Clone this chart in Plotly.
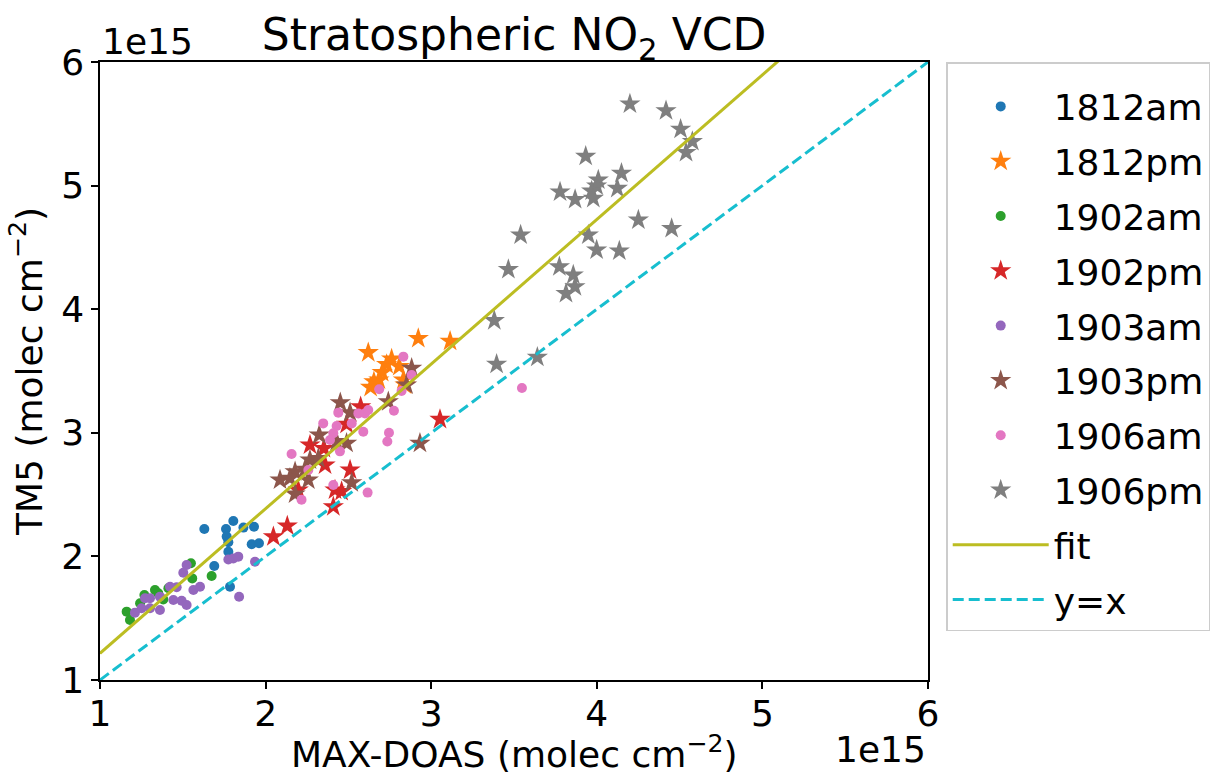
import plotly.graph_objects as go

# Column densities in units of 1e15 molec cm^-2: (MAX-DOAS, TM5) per session
x_1812am = [1.63, 1.805, 1.761, 1.866, 1.93, 1.765, 1.775, 1.916, 1.96, 1.775, 1.69, 1.785]
y_1812am = [2.222, 2.286, 2.222, 2.233, 2.24, 2.16, 2.115, 2.098, 2.106, 2.038, 1.922, 1.755]

x_1812pm = [2.62, 2.922, 3.114, 2.761, 2.731, 2.807, 2.704, 2.684, 2.654, 2.634, 2.832, 2.842]
y_1812pm = [3.649, 3.763, 3.741, 3.597, 3.553, 3.536, 3.488, 3.427, 3.413, 3.368, 3.427, 3.387]

x_1902am = [1.549, 1.557, 1.674, 1.413, 1.332, 1.352, 1.268, 1.242, 1.161, 1.181, 1.382]
y_1902am = [1.944, 1.822, 1.841, 1.742, 1.728, 1.701, 1.688, 1.621, 1.553, 1.485, 1.652]

x_1902pm = [2.047, 2.131, 2.574, 2.489, 2.268, 2.352, 2.359, 2.51, 2.419, 2.459, 2.409, 2.197, 3.053]
y_1902pm = [2.16, 2.246, 3.212, 3.069, 2.901, 2.874, 2.739, 2.699, 2.537, 2.525, 2.403, 2.537, 3.109]

x_1903am = [1.523, 1.503, 1.775, 1.805, 1.835, 1.936, 1.84, 1.463, 1.564, 1.604, 1.272, 1.302,
            1.362, 1.443, 1.493, 1.523, 1.251, 1.211, 1.302, 1.362, 1.423]
y_1903am = [1.93, 1.868, 1.975, 1.983, 1.998, 1.957, 1.674, 1.75, 1.728, 1.755, 1.661, 1.661,
            1.674, 1.647, 1.641, 1.607, 1.58, 1.545, 1.58, 1.566, 1.755]

x_1903pm = [2.451, 2.51, 2.324, 2.429, 2.489, 2.268, 2.318, 2.178, 2.238, 2.087, 2.147, 2.258,
            2.178, 2.52, 2.882, 2.851, 2.741, 2.932]
y_1903pm = [3.244, 3.163, 2.982, 2.929, 2.915, 2.78, 2.793, 2.685, 2.705, 2.618, 2.632, 2.618,
            2.505, 2.597, 3.522, 3.387, 3.252, 2.915]

x_1906am = [2.439, 2.348, 2.429, 2.409, 2.389, 2.52, 2.56, 2.6, 2.62, 2.59, 2.449, 2.157, 2.258,
            2.409, 2.217, 2.616, 2.832, 2.686, 2.882, 2.821, 2.775, 2.745, 2.735, 3.548]
y_1906am = [3.163, 3.076, 3.055, 2.996, 2.942, 3.076, 3.157, 3.157, 3.184, 3.009, 2.85, 2.828, 2.699,
            2.578, 2.459, 2.516, 3.616, 3.352, 3.468, 3.338, 3.179, 3.001, 2.929, 3.362]

x_1906pm = [4.2, 4.418, 4.506, 4.577, 4.539, 3.933, 4.149, 4.124, 4.009, 3.999, 3.969, 3.979, 3.778,
            3.869, 4.251, 4.452, 3.54, 3.949, 3.999, 4.136, 3.466, 3.774, 3.858, 3.868, 3.814,
            3.381, 3.395, 3.641]
y_1906pm = [5.66, 5.606, 5.457, 5.357, 5.269, 5.237, 5.1, 4.978, 5.045, 4.997, 4.956, 4.897, 4.949,
            4.888, 4.722, 4.654, 4.6, 4.6, 4.479, 4.471, 4.322, 4.343, 4.277, 4.182, 4.128,
            3.908, 3.555, 3.612]

# Linear fit (TM5 = slope * MAX-DOAS + offset) and reference line
fit_slope = 1.17
fit_offset = 0.046
line_x = [1.0, 6.0]

sessions = [
    ("1812am", x_1812am, y_1812am, "circle", "#1f77b4"),
    ("1812pm", x_1812pm, y_1812pm, "star", "#ff7f0e"),
    ("1902am", x_1902am, y_1902am, "circle", "#2ca02c"),
    ("1902pm", x_1902pm, y_1902pm, "star", "#d62728"),
    ("1903am", x_1903am, y_1903am, "circle", "#9467bd"),
    ("1903pm", x_1903pm, y_1903pm, "star", "#8c564b"),
    ("1906am", x_1906am, y_1906am, "circle", "#e377c2"),
    ("1906pm", x_1906pm, y_1906pm, "star", "#7f7f7f"),
]

FONT = "DejaVu Sans"
fig = go.Figure()

for name, xs, ys, sym, col in sessions:
    fig.add_trace(go.Scatter(
        x=xs, y=ys, mode="markers", name=name, legendgroup=name,
        marker=dict(symbol=sym, color=col, size=16 if sym == "star" else 10,
                    line=dict(width=0)),
    ))

fig.add_trace(go.Scatter(
    x=line_x, y=[fit_slope * v + fit_offset for v in line_x], mode="lines",
    name="fit", legendgroup="fit", line=dict(color="#bcbd22", width=3),
))
fig.add_trace(go.Scatter(
    x=line_x, y=line_x, mode="lines", name="y=x", legendgroup="yx",
    line=dict(color="#17becf", width=3, dash="11px,5px"),
))

axis_common = dict(
    range=[1, 6], tickvals=[1, 2, 3, 4, 5, 6], ticks="outside", ticklen=7,
    tickwidth=1.5, tickcolor="black", showline=True, linecolor="black", linewidth=1.5,
    mirror=True, showgrid=False, zeroline=False,
    tickfont=dict(family=FONT, size=36, color="black"),
    title_font=dict(family=FONT, size=36, color="black"),
)

fig.update_layout(
    width=1224, height=778,
    margin=dict(l=100, r=296, t=62, b=98, autoexpand=False),
    plot_bgcolor="white", paper_bgcolor="white",
    font=dict(family=FONT, size=36, color="black"),
    title=dict(text="Stratospheric NO<sub>2</sub> VCD", x=0.42, xanchor="center",
               y=0.955, yanchor="middle", font=dict(family=FONT, size=44, color="black")),
    xaxis=dict(axis_common, ticklabelstandoff=-6),
    yaxis=dict(axis_common, title=dict(text="TM5 (molec cm<sup>−2</sup>)", standoff=8)),
    legend=dict(x=1.022, y=1.0, xanchor="left", yanchor="top",
                bgcolor="white", bordercolor="#cccccc", borderwidth=1.5,
                font=dict(family=FONT, size=36, color="black"),
                title=dict(text="&nbsp;", font=dict(family=FONT, size=10)),
                tracegroupgap=5, itemwidth=96, itemsizing="trace"),
    showlegend=True,
)

# x-axis title, placed just below the tick labels
fig.add_annotation(text="MAX-DOAS (molec cm<sup>−2</sup>)", xref="paper", yref="paper",
                   x=0.5, y=0, xanchor="center", yanchor="top", showarrow=False,
                   yshift=-47, font=dict(family=FONT, size=36, color="black"))

# Scale factors of the axes
fig.add_annotation(text="1e15", xref="paper", yref="paper", x=0, y=1.0,
                   xanchor="left", yanchor="bottom", showarrow=False, yshift=-2,
                   font=dict(family=FONT, size=36, color="black"))
fig.add_annotation(text="1e15", xref="paper", yref="paper", x=1.0, y=0,
                   xanchor="right", yanchor="top", showarrow=False, yshift=-47,
                   font=dict(family=FONT, size=36, color="black"))

fig.write_html("out.html")
